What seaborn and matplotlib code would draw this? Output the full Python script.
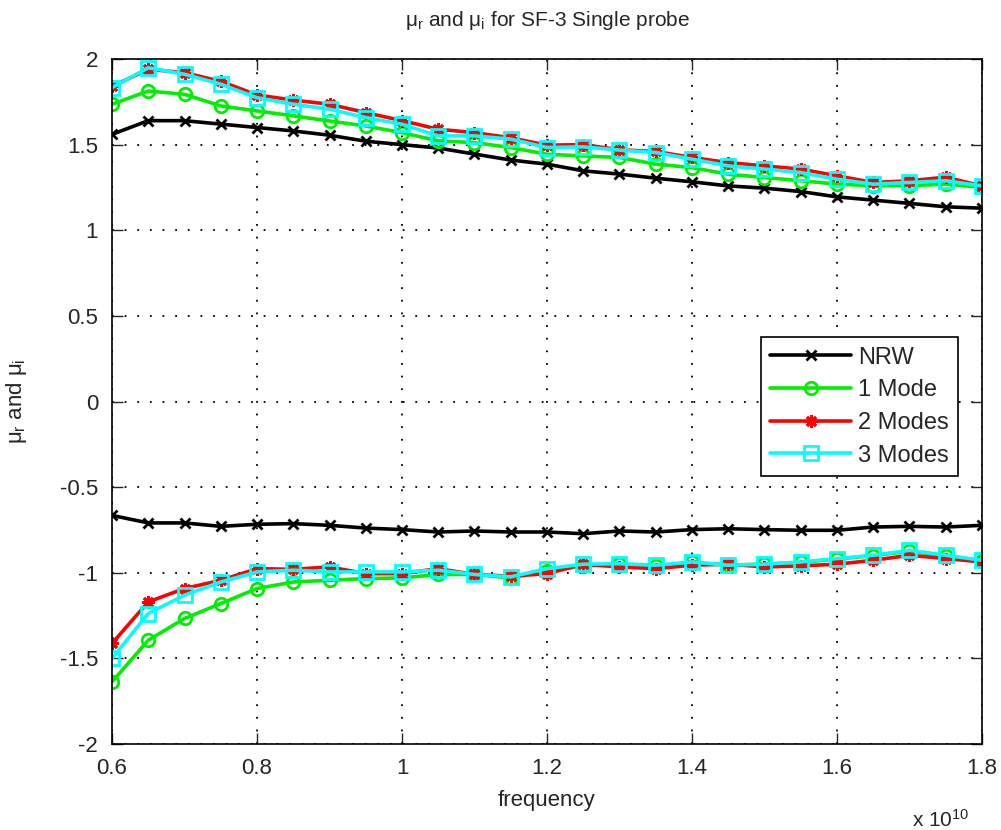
import numpy as np
import pandas as pd
import matplotlib
matplotlib.use('Agg')
import matplotlib.pyplot as plt
import seaborn as sns
from matplotlib.ticker import FuncFormatter

# frequency points in GHz
freq_ghz = [6.0, 6.5, 7.0, 7.5, 8.0, 8.5, 9.0, 9.5, 10.0, 10.5, 11.0, 11.5, 12.0,
            12.5, 13.0, 13.5, 14.0, 14.5, 15.0, 15.5, 16.0, 16.5, 17.0, 17.5, 18.0]

# real part (mu_r)
nrw_r = [1.56, 1.64, 1.64, 1.62, 1.60, 1.58, 1.555, 1.52, 1.50, 1.48, 1.445, 1.41, 1.386,
         1.347, 1.328, 1.304, 1.283, 1.259, 1.246, 1.226, 1.195, 1.176, 1.157, 1.137, 1.129]
mode1_r = [1.736, 1.813, 1.794, 1.726, 1.697, 1.668, 1.638, 1.609, 1.57, 1.522, 1.512, 1.483, 1.444,
           1.434, 1.425, 1.386, 1.366, 1.327, 1.308, 1.289, 1.27, 1.26, 1.26, 1.27, 1.25]
mode2_r = [1.84, 1.94, 1.92, 1.87, 1.79, 1.76, 1.736, 1.687, 1.64, 1.59, 1.57, 1.54, 1.497,
           1.50, 1.47, 1.46, 1.425, 1.395, 1.376, 1.357, 1.318, 1.279, 1.289, 1.31, 1.259]
mode3_r = [1.833, 1.949, 1.911, 1.853, 1.774, 1.736, 1.707, 1.658, 1.619, 1.551, 1.551, 1.532, 1.483,
           1.487, 1.468, 1.454, 1.415, 1.376, 1.357, 1.337, 1.298, 1.269, 1.279, 1.289, 1.259]

# imaginary part (mu_i)
nrw_i = [-0.665, -0.709, -0.709, -0.729, -0.717, -0.713, -0.723, -0.739, -0.748, -0.762, -0.756, -0.762, -0.762,
         -0.772, -0.756, -0.762, -0.748, -0.743, -0.748, -0.752, -0.752, -0.733, -0.729, -0.733, -0.723]
mode1_i = [-1.637, -1.394, -1.267, -1.18, -1.092, -1.054, -1.044, -1.034, -1.03, -1.01, -1.01, -1.03, -0.99,
           -0.96, -0.95, -0.96, -0.94, -0.955, -0.95, -0.94, -0.92, -0.90, -0.875, -0.90, -0.93]
mode2_i = [-1.413, -1.17, -1.092, -1.044, -0.976, -0.98, -0.966, -1.005, -1.005, -0.976, -1.01, -1.02, -1.005,
           -0.95, -0.966, -0.976, -0.956, -0.95, -0.966, -0.96, -0.95, -0.927, -0.898, -0.917, -0.937]
mode3_i = [-1.50, -1.238, -1.131, -1.054, -0.995, -0.985, -0.995, -0.995, -0.995, -0.985, -1.01, -1.024, -0.976,
           -0.95, -0.947, -0.956, -0.937, -0.956, -0.95, -0.937, -0.917, -0.898, -0.869, -0.898, -0.927]

labels = ['NRW', '1 Mode', '2 Modes', '3 Modes']
colors = ['black', '#00ee00', 'red', 'cyan']
markers = ['x', 'o', (8, 2, 0), 's']
sizes = [7, 9, 9, 10]

sns.set_style('ticks')
plt.rcParams['font.family'] = ['Liberation Sans', 'DejaVu Sans']
plt.rcParams['mathtext.fontset'] = 'custom'
plt.rcParams['mathtext.rm'] = 'Liberation Sans'
plt.rcParams['mathtext.it'] = 'Liberation Sans'


def main():
    freq = np.array(freq_ghz) * 1e9
    real_parts = [nrw_r, mode1_r, mode2_r, mode3_r]
    imag_parts = [nrw_i, mode1_i, mode2_i, mode3_i]

    fig = plt.figure(figsize=(10.01, 8.30), dpi=100)
    ax = fig.add_axes([0.1119, 0.1036, 0.8691, 0.8253])

    for lab, col, mk, ms, re, im in zip(labels, colors, markers, sizes, real_parts, imag_parts):
        kw = dict(color=col, marker=mk, markersize=ms, markerfacecolor='none',
                  markeredgecolor=col, markeredgewidth=2, linewidth=2.6, ax=ax)
        sns.lineplot(x=freq, y=re, label=lab, **kw)
        sns.lineplot(x=freq, y=im, **kw)

    ax.set_xlim(0.6e10, 1.8e10)
    ax.set_ylim(-2, 2)
    ax.set_xticks(np.array([0.6, 0.8, 1.0, 1.2, 1.4, 1.6, 1.8]) * 1e10)
    ax.set_yticks([-2, -1.5, -1, -0.5, 0, 0.5, 1, 1.5, 2])
    ax.xaxis.set_major_formatter(FuncFormatter(lambda v, _: f'{v / 1e10:g}'))
    ax.yaxis.set_major_formatter(FuncFormatter(lambda v, _: f'{v:g}'))
    ax.tick_params(direction='in', length=8, width=1, labelsize=16,
                   top=True, right=True, pad=10)
    ax.grid(True, linestyle=(0, (1, 6)), color='black', linewidth=1.3)
    for s in ax.spines.values():
        s.set_linewidth(1.2)
        s.set_color('black')

    ax.set_xlabel('frequency', fontsize=16, labelpad=8)
    ax.set_ylabel(r'$\mu_r$ and $\mu_i$', fontsize=16)
    ax.yaxis.set_label_coords(-0.095, 0.5)
    ax.set_title(r'$\mu_r$ and $\mu_i$ for SF-3 Single probe', fontsize=15, pad=24)
    ax.text(0.985, -0.095, r'x 10$^{10}$', transform=ax.transAxes,
            fontsize=15, ha='right', va='top')

    leg = ax.legend(loc='upper right', bbox_to_anchor=(0.986, 0.611), fontsize=17,
                    fancybox=False, framealpha=1, edgecolor='black',
                    handlelength=3.4, handletextpad=0.3, labelspacing=0.45,
                    borderpad=0.4)
    leg.get_frame().set_linewidth(1.2)

    fig.savefig('out.png', dpi=100, facecolor='white')


if __name__ == '__main__':
    main()
